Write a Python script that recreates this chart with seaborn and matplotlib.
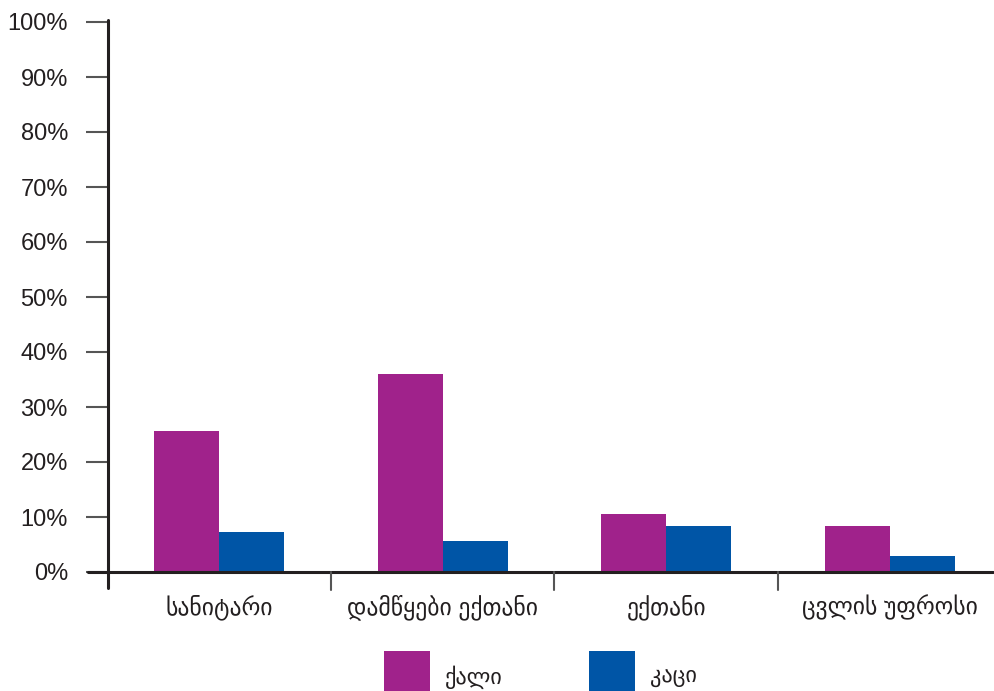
import matplotlib
matplotlib.use("Agg")
import matplotlib.pyplot as plt
import seaborn as sns
import pandas as pd
from matplotlib.patches import Rectangle
from matplotlib.lines import Line2D

categories = ["სანიტარი", "დამწყები ექთანი", "ექთანი", "ცვლის უფროსი"]
series_names = ["ქალი", "კაცი"]
women = [25.6, 36.0, 10.5, 8.4]
men = [7.3, 5.6, 8.4, 2.9]
colors = ["#A0228B", "#0055A6"]
ytick_vals = list(range(0, 101, 10))
ytick_labels = [f"{v}%" for v in ytick_vals]

df = pd.DataFrame({
    "cat": categories * 2,
    "val": women + men,
    "sex": [series_names[0]] * 4 + [series_names[1]] * 4,
})

sns.set_theme(style="white")
plt.rcParams["font.family"] = ["Liberation Sans", "DejaVu Sans"]

W, H = 995, 691
fig = plt.figure(figsize=(W / 100, H / 100), dpi=100)
px_per_cat = 223.5
left_px, right_px = 108, 993
bottom_px, top_px = 572, 20
ax = fig.add_axes([left_px / W, 1 - bottom_px / H, (right_px - left_px) / W, (bottom_px - top_px) / H])

sns.barplot(data=df, x="cat", y="val", hue="sex", palette=colors, width=0.58,
            saturation=1, legend=False, ax=ax, order=categories, hue_order=series_names,
            linewidth=0, edgecolor="none")

x_left = -0.5 + 0.5 / px_per_cat
ax.set_xlim(x_left, x_left + (right_px - left_px) / px_per_cat)
ymax = (bottom_px - top_px) / 5.5
ax.set_ylim(0, ymax)
ax.set_xlabel("")
ax.set_ylabel("")
for s in ax.spines.values():
    s.set_visible(False)

dark = "#231f20"
grey = "#555555"
# y spine extended below zero
ax.add_line(Line2D([x_left, x_left], [-16 / 5.5, 100.35], color=dark, lw=2.2, clip_on=False, zorder=5))
# x axis line extended left
ax.add_line(Line2D([x_left - 20 / px_per_cat, ax.get_xlim()[1]], [0, 0], color=dark, lw=2.2, clip_on=False, zorder=5))
# category separators
for b in [0.5, 1.5, 2.5]:
    ax.add_line(Line2D([b, b], [0, -18 / 5.5], color=grey, lw=1.5, clip_on=False, zorder=5))

ax.set_yticks(ytick_vals)
ax.set_yticklabels(ytick_labels, fontsize=17, color=dark)
ax.tick_params(axis="y", length=22 * 0.72, width=1.5, color=grey, pad=13, left=True)
ax.set_xticks(range(len(categories)))
ax.set_xticklabels(categories, fontsize=17, color=dark)
ax.tick_params(axis="x", length=0, pad=16)

# legend
for i, (name, c) in enumerate(zip(series_names, colors)):
    x0 = 384 + i * 205
    fig.add_artist(Rectangle((x0 / W, 0), 46 / W, 40 / H, transform=fig.transFigure,
                             facecolor=c, edgecolor="none"))
    fig.text((x0 + 61) / W, 1 - 677 / H, name, fontsize=16, color=dark, va="center", ha="left")

fig.savefig("out.png", dpi=100, facecolor="white")
